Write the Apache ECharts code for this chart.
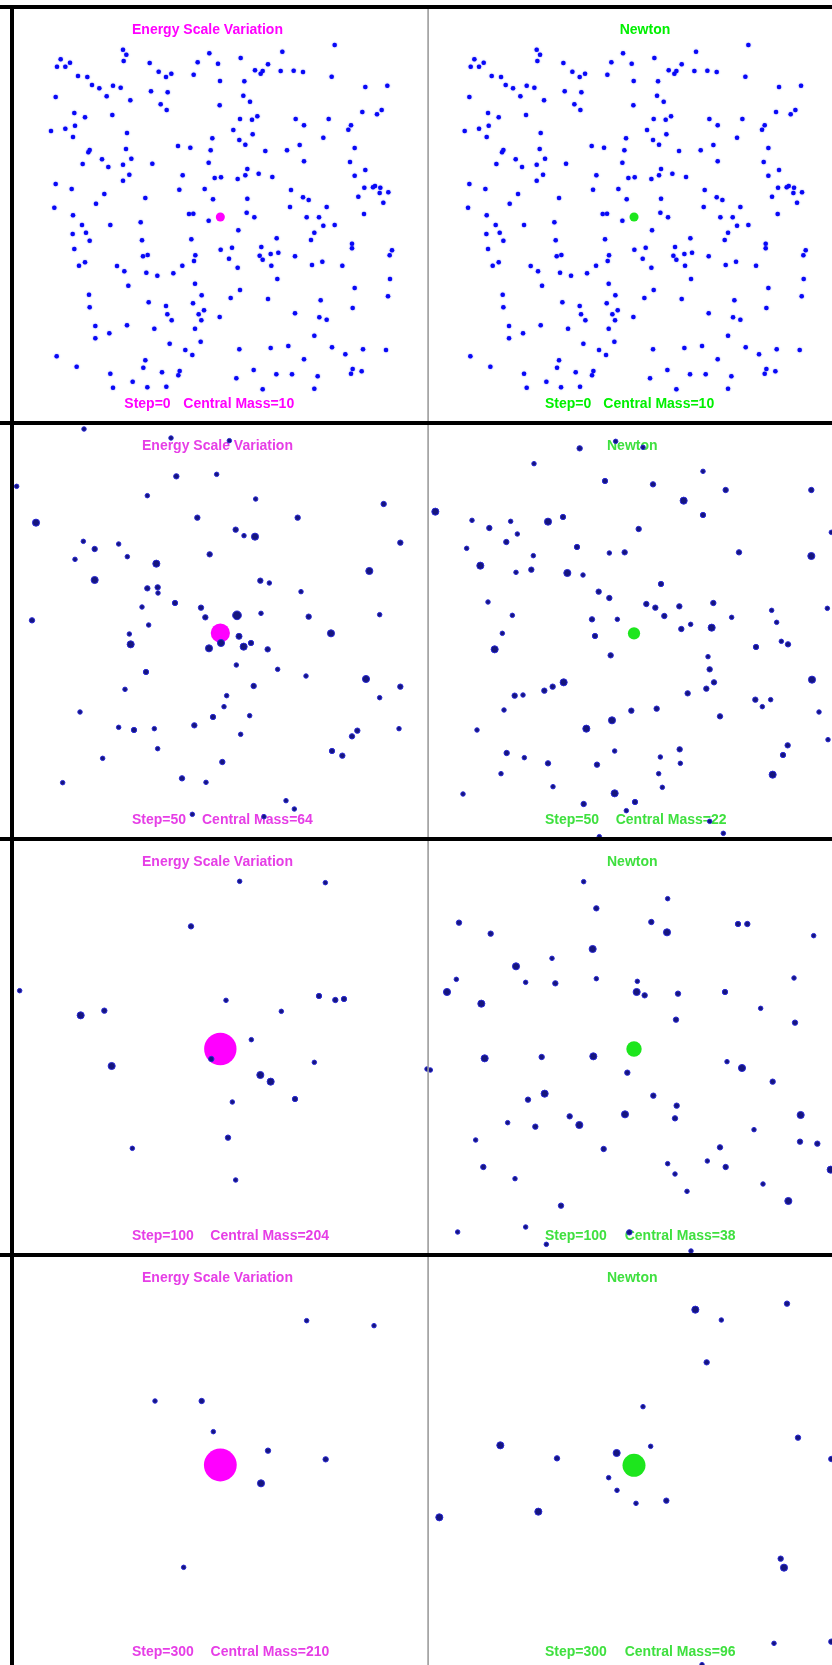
<!DOCTYPE html>
<html>
<head>
<meta charset="utf-8">
<script src="https://cdn.jsdelivr.net/npm/echarts@6/dist/echarts.min.js"></script>
<style>
  html, body { margin: 0; padding: 0; background: #ffffff; overflow: hidden; }
  #chart { width: 860px; height: 1690px; }
</style>
</head>
<body>
<div id="chart"></div>
<script>
// Simulation snapshots: positions are in box units (box side = 1248), y grows downward.
const steps = [0, 50, 100, 300];
const esvCentralMass = [10, 64, 204, 210];
const newtonCentralMass = [10, 22, 38, 96];
const esvCentralPos = [[625, 630], [625, 627], [625, 630], [625, 630]];
const newtonCentralPos = [[625, 630], [618, 628], [618, 630], [618, 634]];
const initialParticleMass = 1;

// Step 0: identical initial conditions for both models, [x, y]
const initialParticles = [
  [968,114],[333,128],[343,143],[335,162],[592,139],[811,134],[686,153],
  [146,157],[174,167],[135,179],[160,179],[413,168],[557,166],[618,170],[768,172],
  [440,194],[478,200],[462,210],[545,203],[729,190],[752,192],[746,200],
  [806,192],[845,191],[873,195],[959,209],[198,207],[226,210],[624,222],[697,223],
  [240,234],[262,244],[303,236],[326,242],[1060,240],[1126,236],[417,253],[467,256],
  [131,270],[284,268],[355,280],[694,266],[714,284],[446,292],[464,309],[623,295],
  [1051,315],[1095,322],[1109,309],[187,318],[219,331],[301,324],[684,336],[720,338],[736,328],
  [851,336],[950,336],[876,355],[1017,355],[1009,368],[160,365],[189,356],[117,372],
  [664,369],[345,378],[722,382],[183,390],[934,392],[601,394],[682,399],[700,413],
  [498,417],[535,422],[863,414],[1028,423],[342,426],[233,429],[229,436],[596,430],
  [760,432],[825,430],[270,457],[289,480],[358,455],[212,471],[333,473],[421,470],
  [590,467],[876,463],[1014,465],[706,486],[740,500],[700,505],[352,503],[333,521],
  [512,505],[608,513],[627,511],[677,516],[781,510],[1028,506],[1060,489],[131,531],
  [179,546],[502,548],[578,546],[837,549],[1057,542],[1083,541],[1089,537],[1105,542],
  [1103,558],[1129,556],[1114,587],[1039,569],[277,561],[400,573],[603,577],[706,575],
  [873,571],[890,579],[252,590],[127,602],[834,600],[944,600],[531,621],[544,620],
  [704,617],[727,631],[1056,621],[183,625],[590,641],[884,631],[921,631],[386,646],
  [295,654],[210,654],[934,656],[968,654],[222,677],[182,681],[679,670],[907,677],
  [233,701],[390,700],[538,697],[794,694],[897,699],[1020,710],[1020,724],[187,726],
  [626,728],[660,722],[748,720],[1140,730],[1133,745],[393,748],[407,744],[550,745],
  [546,762],[651,755],[743,746],[752,758],[776,741],[799,737],[849,748],[219,766],
  [201,776],[315,777],[337,793],[511,776],[677,782],[778,776],[900,774],[931,764],
  [991,776],[403,797],[436,806],[484,799],[796,816],[1134,816],[349,836],[549,830],
  [1028,843],[684,849],[231,863],[569,865],[656,873],[768,876],[1128,868],[410,886],
  [543,889],[926,880],[233,901],[462,897],[1022,903],[576,910],[560,922],[466,922],
  [479,940],[568,940],[623,930],[849,919],[922,931],[944,938],[250,957],[345,955],
  [427,965],[549,965],[292,979],[250,994],[907,986],[473,1010],[566,1004],[520,1029],
  [541,1044],[682,1027],[776,1023],[829,1017],[960,1021],[1053,1027],[1122,1029],
  [1000,1042],[134,1048],[876,1057],[400,1060],[394,1082],[194,1079],[295,1100],
  [450,1096],[503,1092],[499,1105],[725,1089],[1022,1086],[1017,1100],[1049,1093],
  [673,1114],[793,1102],[840,1102],[917,1108],[362,1124],[303,1142],[406,1141],
  [463,1139],[752,1147],[907,1145]
];

// Later snapshots, [x, y, mass]
const esvStep50 = [
  [216,15,1],[477,42,1],[652,50,1],[14,187,1],[493,157,2],[614,151,1],[406,215,1],[731,225,1],
  [1115,240,2],[72,296,5],[556,281,2],[857,281,2],[671,317,2],[696,335,1],[729,338,5],
  [214,352,1],[320,360,1],[248,375,2],[1165,356,2],[189,406,1],[346,398,1],[593,391,2],
  [433,419,5],[1072,441,5],[248,468,5],[745,470,2],[772,477,1],[406,493,2],[437,490,2],
  [438,507,1],[867,503,1],[489,537,2],[390,549,1],[567,551,2],[580,580,2],[675,574,9],
  [747,568,1],[890,578,2],[1103,572,1],[60,589,2],[410,603,1],[352,630,1],[957,628,5],
  [681,637,3],[356,661,5],[627,657,5],[591,673,5],[695,668,5],[717,657,2],[767,676,2],
  [673,723,1],[402,744,2],[797,736,1],[882,756,1],[1062,765,5],[1165,788,2],[725,786,2],
  [339,796,1],[644,815,1],[1103,821,1],[636,848,1],[204,864,1],[603,879,2],[713,875,1],
  [547,904,2],[320,910,1],[366,918,2],[427,914,1],[1161,914,1],[1036,920,2],[1020,937,2],
  [686,931,1],[437,974,1],[272,1003,1],[960,981,2],[991,995,2],[631,1014,2],[510,1063,2],
  [582,1075,1],[152,1076,1],[822,1130,1],[847,1155,1],[541,1171,1],[756,1178,1]
];
const newtonStep50 = [
  [563,52,1],[645,70,1],[455,73,2],[318,119,1],[531,171,2],[675,181,2],[825,142,1],[893,198,2],
  [1150,198,2],[767,230,5],[22,263,5],[132,289,1],[248,292,1],[184,312,2],[360,293,5],
  [405,279,2],[825,273,2],[632,315,2],[1210,325,1],[268,330,1],[235,354,2],[116,373,1],
  [447,369,2],[544,387,1],[590,385,2],[933,385,2],[1150,396,5],[316,395,1],[157,425,5],
  [264,445,1],[310,437,2],[418,447,5],[465,453,1],[699,480,2],[512,503,2],[544,522,2],
  [180,534,1],[655,540,2],[682,551,2],[754,547,2],[856,537,2],[1198,553,1],[1031,559,1],
  [253,574,1],[492,586,2],[568,586,1],[709,576,2],[911,580,1],[1046,595,1],[788,601,1],
  [760,615,2],[851,611,5],[223,628,1],[501,636,2],[1060,652,1],[1080,661,2],[200,676,5],
  [984,669,2],[548,694,2],[840,698,1],[845,736,2],[858,775,2],[835,794,2],[1152,767,5],
  [779,808,2],[407,775,5],[374,788,2],[349,800,2],[260,815,2],[285,813,1],[982,827,2],
  [1028,827,1],[1003,848,1],[228,858,1],[610,860,2],[686,854,2],[876,877,2],[1173,864,1],
  [552,889,5],[475,914,5],[147,918,1],[1200,947,1],[1079,964,2],[1065,993,2],[560,981,1],
  [755,976,2],[236,987,2],[289,1001,1],[697,999,1],[360,1018,2],[507,1022,2],[757,1018,1],
  [219,1049,1],[692,1049,1],[1034,1052,5],[375,1088,1],[703,1090,1],[105,1110,1],
  [560,1108,5],[467,1140,2],[621,1134,2],[595,1160,1],[845,1192,1],[886,1228,1],[514,1238,1]
];
const esvStep100 = [
  [683,127,1],[940,131,1],[537,262,2],[23,455,1],[642,484,1],[921,471,2],[970,483,2],[996,480,2],
  [808,517,1],[206,529,5],[277,515,2],[718,602,1],[598,660,2],[299,681,5],[907,670,1],
  [745,708,5],[776,728,5],[849,780,2],[661,789,1],[648,896,2],[361,928,1],[671,1023,1],[1245,690,1]
];
const newtonStep100 = [
  [467,128,1],[719,179,1],[505,208,2],[93,251,2],[188,284,2],[670,249,2],[717,280,5],
  [930,255,2],[958,255,2],[1157,290,1],[494,330,5],[372,358,1],[264,382,5],[85,421,1],
  [293,430,1],[382,433,2],[505,419,1],[628,427,1],[626,459,5],[650,469,2],[750,464,2],
  [891,459,2],[1098,417,1],[57,459,5],[160,494,5],[998,508,1],[744,542,2],[1101,551,2],
  [170,658,5],[341,654,2],[496,652,5],[7,693,1],[897,668,1],[942,687,5],[598,701,2],
  [1034,728,2],[676,770,2],[350,764,5],[300,782,2],[746,800,2],[741,838,2],[591,826,5],
  [1118,828,5],[425,832,2],[454,858,5],[239,851,1],[322,863,2],[978,872,1],[143,903,1],
  [527,930,2],[1116,908,2],[1168,914,2],[876,925,2],[1208,992,5],[166,984,2],[719,974,1],
  [838,966,1],[893,984,2],[261,1019,1],[741,1005,1],[1005,1035,1],[777,1057,1],[1081,1086,5],
  [399,1100,2],[89,1179,1],[293,1164,1],[604,1180,2],[355,1216,1],[789,1236,1]
];
const esvStep300 = [
  [884,197,1],[1086,212,1],[429,438,1],[569,438,2],[604,530,1],[768,587,2],[941,613,2],
  [747,685,5],[515,937,1]
];
const newtonStep300 = [
  [802,167,5],[880,198,1],[1077,149,2],[836,325,2],[645,458,1],[1110,551,2],[217,574,5],
  [387,613,2],[566,597,5],[668,577,1],[542,671,1],[567,709,1],[624,748,1],[715,740,2],
  [331,773,5],[34,790,5],[1058,914,2],[1068,941,5],[1038,1168,1],[1210,615,2],[1210,1163,2],
  [822,1232,1]
];

const esvSnapshots = [initialParticles, esvStep50, esvStep100, esvStep300];
const newtonSnapshots = [initialParticles, newtonStep50, newtonStep100, newtonStep300];

// ---- layout ----
const BOX = 1248;          // box side in simulation units
const PANEL = 416;         // panel side in pixels
const ROW_PITCH = 416;
const lineY = r => 7 + ROW_PITCH * r;   // centre of each row's top rule
const gridLeft = { esv: [12, 12, 12, 12], newton: [425.7, 428, 428, 428] };
const gridTop = { esv: [7, 424, 839, 1255], newton: [7, 424, 839, 1254] };
const titleX = { esv: [132, 142, 142, 142], newton: [619.7, 607, 607, 607] };
const stepX = { esv: [124.3, 132, 132, 132], newton: [545, 545, 545, 545] };
const massX = { esv: [183.3, 202, 210.3, 210.6], newton: [603.3, 615.7, 624.7, 624.7] };
const titles = { esv: 'Energy Scale Variation', newton: 'Newton' };
const accent = {
  esv: ['#ff00ff', '#e63ee6', '#e63ee6', '#e63ee6'],
  newton: ['#00f000', '#3fe03f', '#3fe03f', '#3fe03f']
};
const centralFill = { esv: '#ff00ff', newton: '#1de61d' };
const FONT = 'bold 14px "Liberation Sans", Arial, sans-serif';

const symbolSizeForMass = m => 2.4 + 2.1 * Math.sqrt(m);

const grids = [], xAxes = [], yAxes = [], series = [], graphics = [];
let idx = 0;
['esv', 'newton'].forEach(model => {
  const snaps = model === 'esv' ? esvSnapshots : newtonSnapshots;
  const cMass = model === 'esv' ? esvCentralMass : newtonCentralMass;
  const cPos = model === 'esv' ? esvCentralPos : newtonCentralPos;
  steps.forEach((step, r) => {
    grids.push({
      left: gridLeft[model][r], top: gridTop[model][r], width: PANEL, height: PANEL,
      show: false, containLabel: false, outerBoundsMode: 'none'
    });
    xAxes.push({ type: 'value', gridIndex: idx, min: 0, max: BOX, show: false });
    yAxes.push({ type: 'value', gridIndex: idx, min: 0, max: BOX, inverse: true, show: false });
    const pts = snaps[r].map(p => [p[0], p[1], p.length > 2 ? p[2] : initialParticleMass]);
    // central body
    series.push({
      type: 'scatter', xAxisIndex: idx, yAxisIndex: idx, z: 3, silent: true,
      data: [[cPos[r][0], cPos[r][1], cMass[r]]],
      symbol: 'circle',
      symbolSize: v => symbolSizeForMass(v[2]),
      itemStyle: { color: centralFill[model], opacity: 1 }
    });
    // particles
    series.push({
      type: 'scatter', xAxisIndex: idx, yAxisIndex: idx, z: 4, silent: true,
      data: pts,
      symbol: 'circle',
      symbolSize: v => symbolSizeForMass(v[2]),
      itemStyle: r === 0
        ? { color: '#0808f6', opacity: 1, shadowBlur: 1.5, shadowColor: 'rgba(40,40,255,0.7)' }
        : { color: '#15157e', borderColor: '#2a2ad4', borderWidth: 1, opacity: 1 }
    });
    const y0 = lineY(r);
    graphics.push({
      type: 'text', x: titleX[model][r], y: y0 + 23.3, z: 1, silent: true,
      style: { text: titles[model], font: FONT, fill: accent[model][r], textAlign: 'left', textVerticalAlign: 'middle' }
    });
    graphics.push({
      type: 'text', x: stepX[model][r], y: y0 + 396.8, z: 1, silent: true,
      style: { text: 'Step=' + step, font: FONT, fill: accent[model][r], textAlign: 'left', textVerticalAlign: 'middle' }
    });
    graphics.push({
      type: 'text', x: massX[model][r], y: y0 + 396.8, z: 1, silent: true,
      style: { text: 'Central Mass=' + cMass[r], font: FONT, fill: accent[model][r], textAlign: 'left', textVerticalAlign: 'middle' }
    });
    idx++;
  });
});

// frame: heavy rules between rows, left edge, light divider between models
for (let r = 0; r < 5; r++) {
  graphics.push({ type: 'rect', z: 100, silent: true, shape: { x: 0, y: lineY(r) - 2, width: 860, height: 4 }, style: { fill: '#000000' } });
}
graphics.push({ type: 'rect', z: 100, silent: true, shape: { x: 10, y: lineY(0) - 2, width: 4, height: 1700 }, style: { fill: '#000000' } });
graphics.push({ type: 'rect', z: 99, silent: true, shape: { x: 427.3, y: lineY(0), width: 1.6, height: 1700 }, style: { fill: '#9c9c9c' } });

const chart = echarts.init(document.getElementById('chart'), null, { renderer: 'canvas' });
chart.setOption({
  animation: false,
  backgroundColor: '#ffffff',
  grid: grids,
  xAxis: xAxes,
  yAxis: yAxes,
  series: series,
  graphic: graphics
});
</script>
</body>
</html>
